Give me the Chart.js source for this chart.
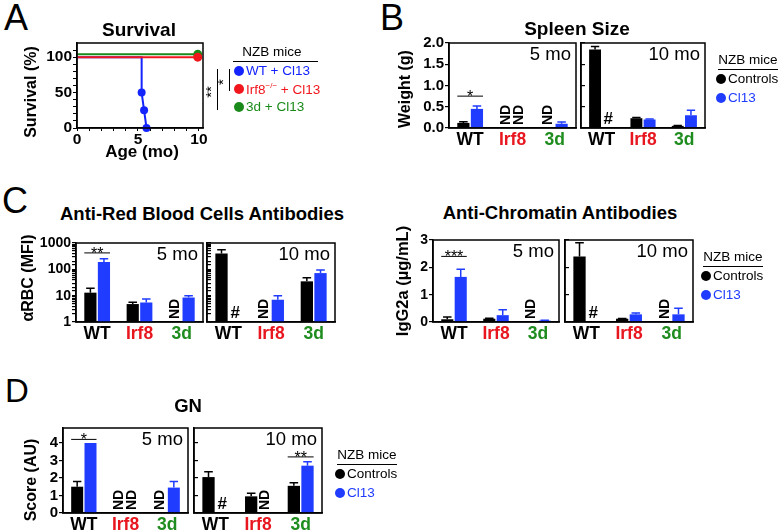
<!DOCTYPE html>
<html>
<head>
<meta charset="utf-8">
<script src="https://cdn.jsdelivr.net/npm/chart.js@4.4.0/dist/chart.umd.min.js"></script>
<style>
body { margin: 0; background: #fff; width: 783px; height: 531px; position: relative; overflow: hidden;
       font-family: 'Liberation Sans', Arial, Helvetica, sans-serif; color: #000; }
canvas { position: absolute; }
.t { position: absolute; white-space: nowrap; transform: translate(-50%, -50%); line-height: 1; }
.l { position: absolute; white-space: nowrap; transform: translate(0, -50%); line-height: 1; font-size: 13.5px; }
.b { font-weight: bold; }
.rot { transform: translate(-50%, -50%) rotate(-90deg); }
.ln { position: absolute; background: #000; }
.dot { position: absolute; width: 10px; height: 10px; border-radius: 50%; transform: translate(-50%, -50%); }
sup { font-size: 8px; }
</style>
</head>
<body>
<script>
const groups = ['WT', 'Irf8', '3d'];
const groupColors = ['#000000', '#e8161f', '#1f8c1f'];
const ctrlColor = '#000000';
const cl13Color = '#1f3cff';
const red = '#f0161c', green = '#1a8a1a', blue = '#1424ff';

// A - survival (%)
const ageWT = [0, 5.3, 5.3, 5.5, 5.7];
const survWT = [100, 100, 50, 25, 0];
const ageIrf8 = [0, 9.9];
const survIrf8 = [100, 100];
const age3d = [0, 9.9];
const surv3d = [104, 104];
const ageTicks = [0, 1, 2, 3, 4, 5, 6, 7, 8, 9, 10];
const survTicks = [0, 10, 20, 30, 40, 50, 60, 70, 80, 90, 100, 110];

// B - spleen weight (g)
const spleen5Ctrl = [0.12, null, null];
const spleen5CtrlErr = [0.03, null, null];
const spleen5Cl13 = [0.45, null, 0.10];
const spleen5Cl13Err = [0.07, null, 0.04];
const spleen10Ctrl = [1.85, 0.23, 0.05];
const spleen10CtrlErr = [0.07, 0.02, 0.01];
const spleen10Cl13 = [null, 0.20, 0.30];
const spleen10Cl13Err = [null, 0.01, 0.12];

// C - anti-RBC (MFI)
const rbc5Ctrl = [13, 4.8, null];
const rbc5CtrlErr = [6, 0.8, null];
const rbc5Cl13 = [190, 5.5, 8.5];
const rbc5Cl13Err = [60, 2, 1.5];
const rbc10Ctrl = [400, null, 35];
const rbc10CtrlErr = [150, null, 13];
const rbc10Cl13 = [null, 7, 72];
const rbc10Cl13Err = [null, 3, 23];

// C - anti-chromatin IgG2a (ug/mL)
const chrom5Ctrl = [0.10, 0.12, null];
const chrom5CtrlErr = [0.08, 0.02, null];
const chrom5Cl13 = [1.65, 0.25, 0.05];
const chrom5Cl13Err = [0.28, 0.20, 0.01];
const chrom10Ctrl = [2.4, 0.12, null];
const chrom10CtrlErr = [0.5, 0.01, null];
const chrom10Cl13 = [null, 0.28, 0.28];
const chrom10Cl13Err = [null, 0.05, 0.22];

// D - GN score (AU)
const gn5Ctrl = [1.5, null, null];
const gn5CtrlErr = [0.3, null, null];
const gn5Cl13 = [4.0, null, 1.45];
const gn5Cl13Err = [0, null, 0.35];
const gn10Ctrl = [2.05, 0.95, 1.55];
const gn10CtrlErr = [0.3, 0.17, 0.17];
const gn10Cl13 = [null, null, 2.7];
const gn10Cl13Err = [null, null, 0.22];

const FONT = "'Liberation Sans', Arial, Helvetica, sans-serif";
Chart.defaults.font.family = FONT;
Chart.defaults.color = '#000';

function el(cls, x, y, html, css) {
  const d = document.createElement('div');
  d.className = cls;
  d.style.left = x + 'px';
  d.style.top = y + 'px';
  if (css) d.style.cssText += css;
  d.innerHTML = html;
  document.body.appendChild(d);
  return d;
}
function line(x, y, w, h) {
  el('ln', x, y, '', 'width:' + w + 'px;height:' + h + 'px;');
}
function legend(x, y, items) {
  // x = dot centre, y = title centre
  el('t', x + 27, y, 'NZB mice', 'font-size:13.5px;');
  line(x - 3, y + 9, 60, 1);
  items.forEach((it, k) => {
    el('dot', x, y + 19 + k * 18.5, '', 'background:' + it[1] + ';');
    el('l', x + 7, y + 19 + k * 18.5, it[0], 'color:' + it[1] + ';');
  });
}

function makeCanvas(f, padL, padB) {
  const padT = 12, padR = 14;
  const c = document.createElement('canvas');
  c.width = padL + f.r - f.l + padR;
  c.height = padT + f.b - f.t + padB;
  c.style.left = (f.l - padL) + 'px';
  c.style.top = (f.t - padT) + 'px';
  document.body.appendChild(c);
  return { c, padT, padR };
}

const CP = 0.64, BP = 0.9;
function slotX(chart, i, di) {
  const xs = chart.scales.x;
  const slot = xs.width / groups.length * CP / 2;
  return xs.getPixelForValue(i) + (di - 0.5) * slot;
}

const frame = {
  id: 'frame',
  afterDraw(chart) {
    const a = chart.chartArea, ctx = chart.ctx;
    ctx.save();
    ctx.strokeStyle = '#000';
    ctx.lineWidth = 1.5;
    ctx.strokeRect(a.left, a.top, a.right - a.left, a.bottom - a.top);
    ctx.restore();
  }
};

const marks = {
  id: 'marks',
  afterDatasetsDraw(chart, args, o) {
    const ctx = chart.ctx, a = chart.chartArea, ys = chart.scales.y;
    const slot = chart.scales.x.width / groups.length * CP / 2, bw = slot * BP;
    const dead = o.dead || [];
    ctx.save();
    chart.data.datasets.forEach((ds, di) => {
      ds.data.forEach((v, i) => {
        const x = slotX(chart, i, di);
        if (v == null) {
          ctx.fillStyle = '#000';
          if (dead.some(d => d[0] === i && d[1] === di)) {
            ctx.font = 'bold 17px ' + FONT;
            ctx.textAlign = 'center';
            ctx.textBaseline = 'alphabetic';
            ctx.fillText('#', x, a.bottom - 4);
          } else {
            ctx.save();
            ctx.translate(x, a.bottom - 3);
            ctx.rotate(-Math.PI / 2);
            ctx.font = 'bold 14px ' + FONT;
            ctx.textAlign = 'left';
            ctx.textBaseline = 'middle';
            ctx.fillText('ND', 0, 0);
            ctx.restore();
          }
          return;
        }
        if (!ds.err || !ds.err[i]) return;
        const y0 = ys.getPixelForValue(v), y1 = ys.getPixelForValue(v + ds.err[i]);
        ctx.strokeStyle = ds.backgroundColor;
        ctx.lineWidth = 1.5;
        ctx.beginPath();
        ctx.moveTo(x, y0);
        ctx.lineTo(x, y1);
        ctx.moveTo(x - bw * 0.35, y1);
        ctx.lineTo(x + bw * 0.35, y1);
        ctx.stroke();
      });
    });
    (o.sig || []).forEach(s => {
      const x1 = slotX(chart, s.i, 0) - bw / 2, x2 = slotX(chart, s.i, 1) + bw / 2;
      const y = ys.getPixelForValue(s.y);
      ctx.strokeStyle = '#000';
      ctx.lineWidth = 1;
      ctx.beginPath();
      ctx.moveTo(x1, y);
      ctx.lineTo(x2, y);
      ctx.stroke();
      ctx.fillStyle = '#000';
      ctx.font = '16px ' + FONT;
      ctx.textAlign = 'center';
      ctx.textBaseline = 'alphabetic';
      ctx.fillText(s.text, (x1 + x2) / 2, y + 6);
    });
    if (o.tag) {
      ctx.fillStyle = '#000';
      ctx.font = '18.5px ' + FONT;
      ctx.textAlign = 'right';
      ctx.textBaseline = 'top';
      ctx.fillText(o.tag, a.right - 5, a.top + 3);
    }
    ctx.restore();
  }
};

function barChart(f, padL, ctrl, ctrlErr, cl13, cl13Err, y, marksOpt, inner) {
  const { c, padT, padR } = makeCanvas(f, padL, 28);
  const yScale = Object.assign({
    border: { color: '#000', width: 1.5 },
    grid: { drawOnChartArea: false, color: '#000', tickLength: inner ? -4 : 4, lineWidth: 1.2 },
    afterFit: s => { s.width = padL; }
  }, y);
  return new Chart(c, {
    type: 'bar',
    data: {
      labels: groups,
      datasets: [
        { data: ctrl, err: ctrlErr, backgroundColor: ctrlColor },
        { data: cl13, err: cl13Err, backgroundColor: cl13Color }
      ]
    },
    options: {
      responsive: false,
      animation: false,
      layout: { padding: { top: padT, right: padR } },
      categoryPercentage: CP,
      barPercentage: BP,
      plugins: { legend: { display: false }, tooltip: { enabled: false }, marks: marksOpt },
      scales: {
        x: {
          grid: { display: false, drawTicks: false },
          border: { color: '#000', width: 1.5 },
          ticks: { color: c => groupColors[c.index], font: { size: 17.5, weight: 'bold' }, padding: 2 },
          afterFit: s => { s.height = 28; }
        },
        y: yScale
      }
    },
    plugins: [marks, frame]
  });
}

function pts(xs, ys) { return xs.map((x, i) => ({ x: x, y: ys[i] })); }
function fixedTicks(vals) { return s => { s.ticks = vals.map(v => ({ value: v })); }; }

// ---------- A ----------
(function () {
  const f = { l: 77, t: 43, r: 203, b: 128 };
  const { c, padT, padR } = makeCanvas(f, 40, 22);
  const tickFont = { size: 15.5, weight: 'bold' };
  new Chart(c, {
    type: 'line',
    data: {
      datasets: [
        { data: pts(ageIrf8, survIrf8), borderColor: red, backgroundColor: red, borderWidth: 2, pointRadius: [0, 4.5], pointBorderWidth: 0 },
        { data: pts(age3d, surv3d), borderColor: green, backgroundColor: green, borderWidth: 2, pointRadius: [0, 4.5], pointBorderWidth: 0 },
        { data: pts(ageWT, survWT), borderColor: blue, backgroundColor: blue, borderWidth: 2, pointRadius: [0, 0, 4, 4, 4], pointBorderWidth: 0 }
      ]
    },
    options: {
      responsive: false,
      animation: false,
      clip: false,
      layout: { padding: { top: padT, right: padR } },
      plugins: { legend: { display: false }, tooltip: { enabled: false } },
      scales: {
        x: {
          type: 'linear', min: 0, max: 10.33,
          border: { color: '#000', width: 1.5 },
          grid: { drawOnChartArea: false, color: '#000', tickLength: 3 },
          ticks: { autoSkip: false, maxRotation: 0, font: tickFont, padding: -1,
                   callback: v => (v % 5 === 0 ? v : '') },
          afterBuildTicks: fixedTicks(ageTicks),
          afterFit: s => { s.height = 22; }
        },
        y: {
          min: 0, max: 120,
          border: { color: '#000', width: 1.5 },
          grid: { drawOnChartArea: false, color: '#000', tickLength: 4 },
          ticks: { autoSkip: false, font: tickFont, padding: 1,
                   callback: v => (v % 50 === 0 ? v : '') },
          afterBuildTicks: fixedTicks(survTicks),
          afterFit: s => { s.width = 40; }
        }
      }
    },
    plugins: [frame]
  });
})();

// ---------- B ----------
const yB = { min: 0, max: 2.0, ticks: { stepSize: 0.5, font: { size: 15, weight: 'bold' }, padding: 1, callback: v => v.toFixed(1) } };
barChart({ l: 449, t: 43, r: 576, b: 128 }, 40, spleen5Ctrl, spleen5CtrlErr, spleen5Cl13, spleen5Cl13Err,
  yB, { tag: '5 mo', sig: [{ i: 0, y: 0.75, text: '*' }] });
barChart({ l: 581, t: 43, r: 705, b: 128 }, 8, spleen10Ctrl, spleen10CtrlErr, spleen10Cl13, spleen10Cl13Err,
  Object.assign({}, yB, { ticks: { stepSize: 0.5, callback: () => '' } }), { tag: '10 mo', dead: [[0, 1]] }, true);

// ---------- C: anti-RBC ----------
const yRBC = { type: 'logarithmic', min: 1, max: 1000,
  ticks: { font: { size: 14, weight: 'bold' }, padding: 1, autoSkip: false,
           callback: v => ([1, 10, 100, 1000].includes(v) ? v : '') } };
barChart({ l: 76, t: 243, r: 203, b: 322 }, 42, rbc5Ctrl, rbc5CtrlErr, rbc5Cl13, rbc5Cl13Err,
  yRBC, { tag: '5 mo', sig: [{ i: 0, y: 420, text: '**' }] });
barChart({ l: 207, t: 243, r: 335, b: 322 }, 8, rbc10Ctrl, rbc10CtrlErr, rbc10Cl13, rbc10Cl13Err,
  Object.assign({}, yRBC, { ticks: { autoSkip: false, callback: () => '' } }), { tag: '10 mo', dead: [[0, 1]] }, true);

// ---------- C: anti-chromatin ----------
const yChr = { min: 0, max: 3, ticks: { stepSize: 1, font: { size: 14, weight: 'bold' }, padding: 1 } };
barChart({ l: 433, t: 240, r: 559, b: 322 }, 30, chrom5Ctrl, chrom5CtrlErr, chrom5Cl13, chrom5Cl13Err,
  yChr, { tag: '5 mo', sig: [{ i: 0, y: 2.4, text: '***' }] });
barChart({ l: 565, t: 240, r: 693, b: 322 }, 8, chrom10Ctrl, chrom10CtrlErr, chrom10Cl13, chrom10Cl13Err,
  Object.assign({}, yChr, { ticks: { stepSize: 1, callback: () => '' } }), { tag: '10 mo', dead: [[0, 1]] }, true);

// ---------- D: GN ----------
const gnTicks = [0, 1, 2, 3, 4];
const yGN = { min: 0, max: 4.85, afterBuildTicks: fixedTicks(gnTicks),
  ticks: { font: { size: 15, weight: 'bold' }, padding: 1 } };
barChart({ l: 63, t: 428, r: 188, b: 513 }, 30, gn5Ctrl, gn5CtrlErr, gn5Cl13, gn5Cl13Err,
  yGN, { tag: '5 mo', sig: [{ i: 0, y: 4.2, text: '*' }] });
barChart({ l: 194, t: 428, r: 322, b: 513 }, 8, gn10Ctrl, gn10CtrlErr, gn10Cl13, gn10Cl13Err,
  Object.assign({}, yGN, { ticks: { callback: () => '' } }), { tag: '10 mo', dead: [[0, 1]], sig: [{ i: 2, y: 3.2, text: '**' }] }, true);

// ---------- text ----------
el('t', 16, 18, 'A', 'font-size:36px;');
el('t', 392, 18, 'B', 'font-size:36px;');
el('t', 15, 201, 'C', 'font-size:36px;');
el('t', 17, 390, 'D', 'font-size:33px;');

el('t b', 139, 29, 'Survival', 'font-size:19px;');
el('t b', 577, 28, 'Spleen Size', 'font-size:19px;');
el('t b', 202, 214, 'Anti-Red Blood Cells Antibodies', 'font-size:18.5px;');
el('t b', 560, 213, 'Anti-Chromatin Antibodies', 'font-size:18.5px;');
el('t b', 188, 406, 'GN', 'font-size:18.5px;');

el('t b rot', 31, 92, 'Survival (%)', 'font-size:16px;');
el('t b', 142, 151, 'Age (mo)', 'font-size:17px;');
el('t b rot', 405, 89, 'Weight (g)', 'font-size:16px;');
el('t b rot', 28, 278, '&alpha;RBC (MFI)', 'font-size:16px;');
el('t b rot', 402, 281, 'IgG2a (&micro;g/mL)', 'font-size:16.5px;');
el('t b rot', 31, 480, 'Score (AU)', 'font-size:16px;');

// survival legend and significance bracket
el('t', 272, 52, 'NZB mice', 'font-size:13.5px;');
line(233, 61, 85, 1);
[['WT + Cl13', blue], ['Irf8<sup>&minus;/&minus;</sup> + Cl13', red], ['3d + Cl13', green]].forEach((it, k) => {
  el('dot', 239, 71 + k * 18, '', 'background:' + it[1] + ';');
  el('l', 246, 71 + k * 18, it[0], 'color:' + it[1] + ';');
});
line(217, 69, 1, 41);
line(229, 69, 1, 22);
el('t rot', 210, 92, '**', 'font-size:15px;');
el('t rot', 222, 82, '*', 'font-size:15px;');

legend(721, 60, [['Controls', '#000'], ['Cl13', cl13Color]]);
legend(706, 257, [['Controls', '#000'], ['Cl13', cl13Color]]);
legend(340, 455, [['Controls', '#000'], ['Cl13', cl13Color]]);
</script>
</body>
</html>
